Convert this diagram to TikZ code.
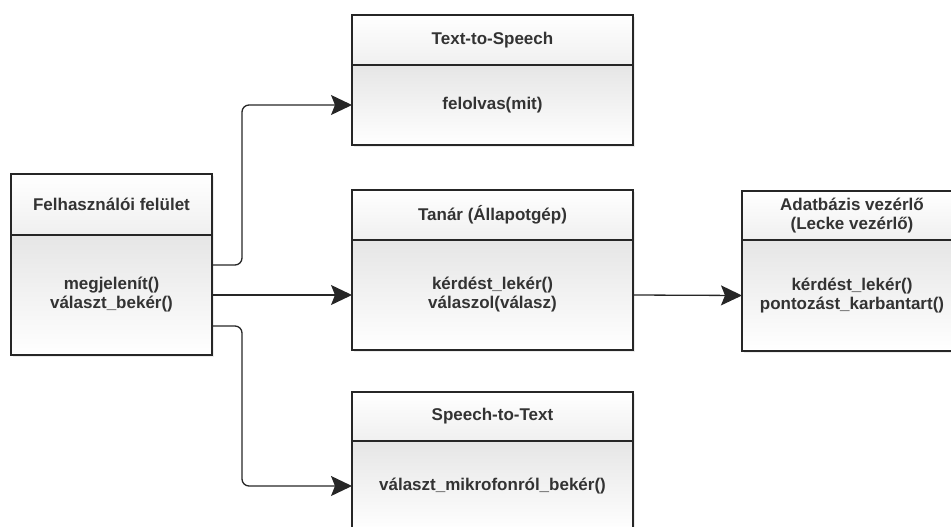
\documentclass[tikz,border=0pt]{standalone}
\usepackage{fontspec}
\setmainfont{Liberation Sans}
\usetikzlibrary{positioning,arrows.meta,shadows}
\tikzset{
  classhead/.style={draw=black!85, line width=1.7pt, anchor=north west,
    top color=white, bottom color=black!6, font=\bfseries\fontsize{17}{19}\selectfont,
    text=black!80, align=center, inner sep=0pt, outer sep=0pt,
    drop shadow={opacity=0.15, shadow xshift=2pt, shadow yshift=-2pt}},
  classbody/.style={draw=black!85, line width=1.7pt, anchor=north,
    top color=black!10, bottom color=white, font=\bfseries\fontsize{17}{19}\selectfont,
    text=black!80, align=center, inner sep=0pt, outer sep=0pt,
    drop shadow={opacity=0.15, shadow xshift=2pt, shadow yshift=-2pt}},
  flow/.style={draw=black!85, line width=1.3pt, rounded corners=7pt,
    -{Stealth[length=21pt, width=20pt, inset=4pt]}}
}
\begin{document}
\begin{tikzpicture}[x=1pt, y=-1pt]
\useasboundingbox (0,0) rectangle (951,527);
\clip (0,0) rectangle (951,527);
% felhasznaloi felulet
\node[classhead, minimum width=201pt, minimum height=61pt] (uih) at (11,174) {Felhasználói felület};
\node[classbody, minimum width=201pt, minimum height=120pt] (uib) at (uih.south) {megjelenít()\\választ\_bekér()};
% text-to-speech
\node[classhead, minimum width=281pt, minimum height=50pt] (ttsh) at (352,15) {Text-to-Speech};
\node[classbody, minimum width=281pt, minimum height=80pt] (ttsb) at (ttsh.south) {felolvas(mit)};
% tanar
\node[classhead, minimum width=281pt, minimum height=50pt] (tanh) at (352,190) {Tanár (Állapotgép)};
\node[classbody, minimum width=281pt, minimum height=110pt] (tanb) at (tanh.south) {kérdést\_lekér()\\válaszol(válasz)};
% adatbazis
\node[classhead, minimum width=220pt, minimum height=49pt] (dbh) at (742,191) {Adatbázis vezérlő\\(Lecke vezérlő)};
\node[classbody, minimum width=220pt, minimum height=111pt] (dbb) at (dbh.south) {kérdést\_lekér()\\pontozást\_karbantart()};
% speech-to-text
\node[classhead, minimum width=281pt, minimum height=49pt] (stth) at (352,392) {Speech-to-Text};
\node[classbody, minimum width=281pt, minimum height=90pt] (sttb) at (stth.south) {választ\_mikrofonról\_bekér()};
% connectors
\draw[flow] ([yshift=30pt]uib.east) -- ++(30,0) |- (ttsb.west);
\draw[flow] (uib.east) -- (tanb.west);
\draw[flow] ([yshift=-31pt]uib.east) -- ++(30,0) |- (sttb.west);
\draw[flow] (tanb.east) -- (dbb.west);
\end{tikzpicture}
\end{document}
